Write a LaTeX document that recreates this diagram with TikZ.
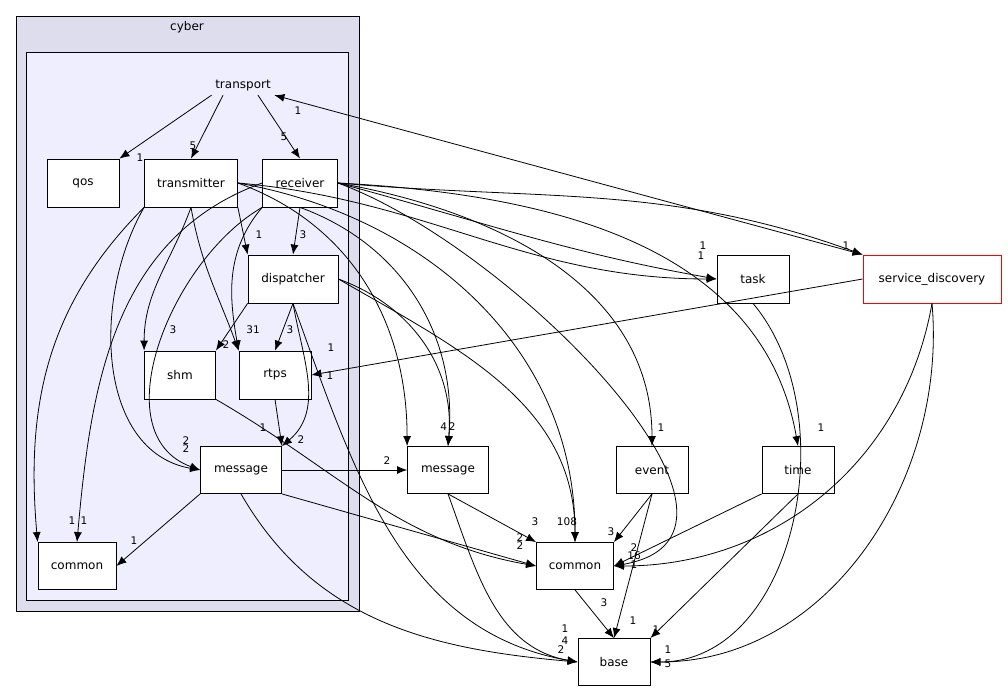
\documentclass[tikz,border=0pt]{standalone}
\usepackage{fontspec}
\setmainfont{DejaVu Sans}
\usetikzlibrary{positioning, arrows.meta}
\definecolor{sdred}{RGB}{255,0,0}

\begin{document}
\begin{tikzpicture}[x=1pt,y=-1pt,font=\fontsize{12}{14}\selectfont,line width=0.8pt,
  box/.style={draw,fill=white,minimum height=48pt,inner sep=2pt},
  dep/.style={-{Latex[length=10pt,width=8pt]}},
  num/.style={font=\fontsize{10.5}{11}\selectfont,inner sep=0pt}]
\useasboundingbox (0,0) rectangle (1008,692);

% clusters
\draw[fill={rgb,255:red,221;green,221;blue,238}] (16,16) rectangle (359,611);
\node at (187,27) {cyber};
\draw[fill={rgb,255:red,238;green,238;blue,255}] (26,52) rectangle (348,600);
\node (transport) at (243,86) {transport};

% directories
\node[box,minimum width=72pt] (qos) at (83,183) {qos};
\node[box,minimum width=93pt] (transmitter) at (191,183) {transmitter};
\node[box,minimum width=75pt] (receiver) at (300,183) {receiver};
\node[box,minimum width=90pt] (dispatcher) at (293,279) {dispatcher};
\node[box,minimum width=71pt] (shm) at (180,375) {shm};
\node[box,minimum width=72pt] (rtps) at (275,375) {rtps};
\node[box,minimum width=81pt,minimum height=47pt] (imsg) at (241,470) {message};
\node[box,minimum width=78pt,minimum height=47pt] (icommon) at (77,566) {common};
\node[box,minimum width=81pt,minimum height=47pt] (message) at (448,470) {message};
\node[box,minimum width=72pt,minimum height=47pt] (event) at (652,470) {event};
\node[box,minimum width=72pt,minimum height=47pt] (time) at (798,470) {time};
\node[box,minimum width=72pt] (task) at (753,279) {task};
\node[box,draw=sdred,minimum width=138pt] (sd) at (932,279) {service\_discovery};
\node[box,minimum width=77pt,minimum height=47pt] (common) at (575,566) {common};
\node[box,minimum width=72pt,minimum height=47pt] (base) at (614,662) {base};

% dependencies
\draw[dep] (transport.south west) -- (qos.north east);
\draw[dep] (transport.south) ++(-20,0) coordinate (t1) (t1) -- (transmitter.north);
\draw[dep] (transport.south) ++(15,0) coordinate (t2) (t2) -- (receiver.north);
\draw[{Latex[length=10pt,width=8pt]}-{Latex[length=10pt,width=8pt]}] (transport.south east) -- (sd.north west);
\draw[dep] (receiver.east) to[out=-5,in=160] (sd.north west);
\draw[dep] (transmitter.south east) -- (dispatcher.north west);
\draw[dep] (receiver.south) -- (dispatcher.north);
\draw[dep] (transmitter.south) to[out=-110,in=90] (shm.north west);
\draw[dep] (transmitter.south) to[out=-80,in=110] (rtps.north west);
\draw[dep] (receiver.south west) to[out=-130,in=100] (rtps.north west);
\draw[dep] (dispatcher.south) -- (rtps.north);
\draw[dep] (dispatcher.south west) -- (shm.north east);
\draw[dep] (rtps.south) -- (imsg.north east);
\draw[dep] (dispatcher.south) to[out=-80,in=40] (imsg.north east);
\draw[dep] (transmitter.south west) to[out=-120,in=170] (imsg.west);
\draw[dep] (receiver.south west) to[out=-150,in=160] (imsg.west);
\draw[dep] (transmitter.south west) to[out=-135,in=95] (icommon.north west);
\draw[dep] (receiver.west) to[out=-160,in=85] (icommon.north);
\draw[dep] (imsg.south west) -- (icommon.east);
\draw[dep] (imsg.east) -- (message.west);
\draw[dep] (transmitter.east) to[out=-20,in=90] (message.north west);
\draw[dep] (receiver.south) to[out=-20,in=85] (message.north);
\draw[dep] (dispatcher.east) to[out=-20,in=85] (message.north);
\draw[dep] (imsg.south east) -- (common.west);
\draw[dep] (shm.south east) to[out=-30,in=170] (common.west);
\draw[dep] (message.south) -- (common.north west);
\draw[dep] (transmitter.east) to[out=-10,in=90] (common.north);
\draw[dep] (dispatcher.east) to[out=-30,in=90] (common.north);
\draw[dep] (receiver.east) to[out=-20,in=10] (common.east);
\draw[dep] (event.south) -- (common.north east);
\draw[dep] (time.south west) -- (common.east);
\draw[dep] (sd.south) to[out=-100,in=0] (common.east);
\draw[dep] (common.south) -- (base.north);
\draw[dep] (message.south) to[out=-70,in=170] (base.west);
\draw[dep] (imsg.south) to[out=-60,in=175] (base.west);
\draw[dep] (dispatcher.south) to[out=-70,in=170] (base.west);
\draw[dep] (event.south) -- (base.north);
\draw[dep] (time.south) -- (base.north east);
\draw[dep] (task.south) to[out=-50,in=0] (base.east);
\draw[dep] (sd.south) to[out=-85,in=0] (base.east);
\draw[dep] (transmitter.east) to[out=-5,in=180] (task.west);
\draw[dep] (receiver.east) to[out=-15,in=170] (task.west);
\draw[dep] (receiver.east) to[out=-10,in=90] (event.north);
\draw[dep] (receiver.east) to[out=-3,in=100] (time.north);
\draw[dep] (sd.west) -- (rtps.east);

% labels
\node[num] (l1) at (140,158) {1};
\node[num] (l2) at (193,146) {5};
\node[num] (l3) at (284,137) {5};
\node[num] (l4) at (298,111) {1};
\node[num] (l5) at (846,246) {1};
\node[num] (l6) at (259,235) {1};
\node[num] (l7) at (303,235) {3};
\node[num] (l8) at (173,330) {3};
\node[num] (l9) at (253,330) {31};
\node[num] (l10) at (290,330) {3};
\node[num] (l11) at (226,345) {2};
\node[num] (l12) at (263,428) {1};
\node[num] (l13) at (330,376) {1};
\node[num] (l14) at (301,440) {2};
\node[num] (l15) at (186,441) {2};
\node[num] (l16) at (186,449) {2};
\node[num] (l17) at (72,521) {1};
\node[num] (l18) at (84,521) {1};
\node[num] (l19) at (134,541) {1};
\node[num] (l20) at (387,461) {2};
\node[num] (l21) at (448,427) {4\,2};
\node[num] (l22) at (520,538) {2};
\node[num] (l23) at (520,546) {2};
\node[num] (l24) at (535,522) {3};
\node[num] (l25) at (567,522) {108};
\node[num] (l26) at (611,532) {3};
\node[num] (l27) at (634,548) {2};
\node[num] (l28) at (634,556) {16};
\node[num] (l29) at (634,565) {1};
\node[num] (l30) at (604,603) {3};
\node[num] (l31) at (565,629) {1};
\node[num] (l32) at (565,641) {4};
\node[num] (l33) at (561,650) {2};
\node[num] (l34) at (633,621) {1};
\node[num] (l35) at (656,630) {1};
\node[num] (l36) at (668,650) {1};
\node[num] (l37) at (668,664) {5};
\node[num] (l38) at (703,246) {1};
\node[num] (l39) at (701,256) {1};
\node[num] (l40) at (661,428) {1};
\node[num] (l41) at (821,428) {1};
\node[num] (l42) at (331,348) {1};
\end{tikzpicture}
\end{document}
